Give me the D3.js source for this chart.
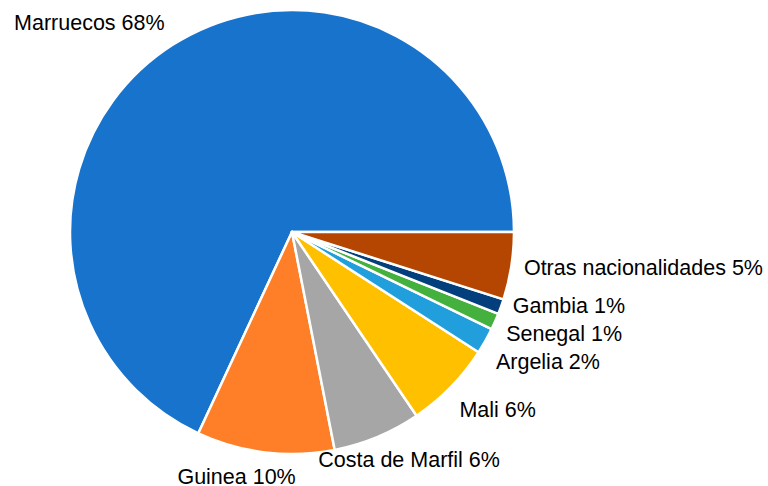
<!DOCTYPE html>
<html>
<head>
<meta charset="utf-8">
<script src="https://cdn.jsdelivr.net/npm/d3@7"></script>
<style>
  html, body { margin: 0; padding: 0; background: #fff; }
  text { font-family: "Liberation Sans", Arial, sans-serif; }
</style>
</head>
<body>
<svg id="chart"></svg>
<script>
// data, counter-clockwise from 3 o'clock
const countries = ["Marruecos", "Guinea", "Costa de Marfil", "Mali", "Argelia", "Senegal", "Gambia", "Otras nacionalidades"];
const shares = [68.0, 10.0, 6.4, 6.4, 1.9, 1.2, 1.1, 4.9];
const colors = ["#1873CC", "#FE7F27", "#A6A6A6", "#FFC000", "#209FDC", "#44B03D", "#033F7D", "#B54602"];

// label nudges (anchor + offset from the outer label arc centroid)
const labelLayout = [
    { anchor: "end", dx: -1.6, dy: -5.2 },
    { anchor: "end", dx: 32, dy: 20 },
    { anchor: "start", dx: -63.7, dy: 19.3 },
    { anchor: "start", dx: 0, dy: 21 },
    { anchor: "start", dx: 0, dy: 22 },
    { anchor: "start", dx: 0, dy: 15 },
    { anchor: "start", dx: 0.4, dy: 2 },
    { anchor: "start", dx: 0.7, dy: 7.4 }
];

const width = 768, height = 486;
const cx = 292, cy = 232, radius = 222;

const svg = d3.select("#chart")
    .attr("width", width)
    .attr("height", height);

const data = countries.map((c, i) => ({ name: c, value: shares[i], color: colors[i], layout: labelLayout[i] }));
const total = d3.sum(shares);

const pie = d3.pie()
    .sort(null)
    .value(d => d.value)
    .startAngle(Math.PI * 2.5)
    .endAngle(Math.PI * 0.5);

const arc = d3.arc().innerRadius(0).outerRadius(radius);
const labelArc = d3.arc().innerRadius(radius + 12).outerRadius(radius + 12);

const g = svg.append("g").attr("transform", `translate(${cx}, ${cy})`);

const arcs = pie(data);

g.selectAll("path")
    .data(arcs)
    .join("path")
    .attr("d", arc)
    .attr("fill", d => d.data.color)
    .attr("stroke", "#fff")
    .attr("stroke-width", 2.5)
    .attr("stroke-linejoin", "round");

g.selectAll("text")
    .data(arcs)
    .join("text")
    .attr("x", d => labelArc.centroid(d)[0] + d.data.layout.dx)
    .attr("y", d => labelArc.centroid(d)[1] + d.data.layout.dy)
    .attr("text-anchor", d => d.data.layout.anchor)
    .attr("fill", "#000")
    .style("font-size", "21.5px")
    .text(d => d.data.name + " " + Math.round(d.data.value / total * 100) + "%");
</script>
</body>
</html>
